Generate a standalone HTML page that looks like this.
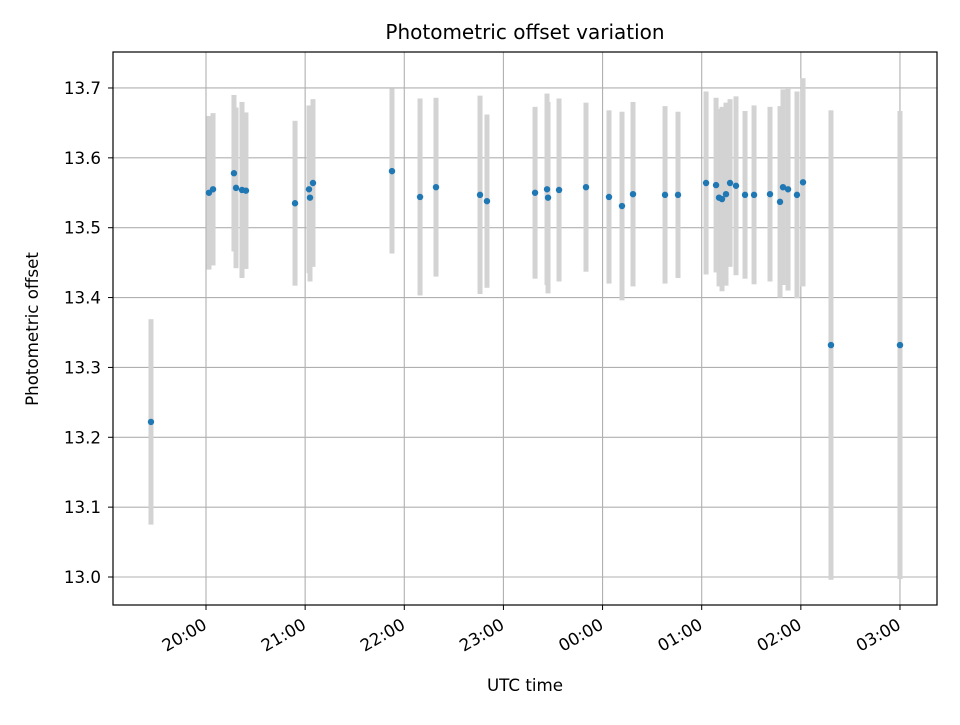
<!DOCTYPE html>
<html><head><meta charset="utf-8"><style>
body{margin:0;background:#fff;}
svg text{font-family:"DejaVu Sans","Liberation Sans",sans-serif;fill:#000;}
</style></head><body>
<svg id="chart" width="960" height="720" xmlns="http://www.w3.org/2000/svg">
<rect width="960" height="720" fill="#fff"/>
<g id="grid"></g>
<g id="bars"></g>
<g id="pts"></g>
<rect x="113" y="52" width="824" height="553" fill="none" stroke="#000" stroke-width="1.2"/>
<g id="ticks"></g>
<text x="525" y="39" font-size="20" text-anchor="middle">Photometric offset variation</text>
<text x="525" y="691" font-size="16.7" text-anchor="middle">UTC time</text>
<text transform="translate(38,329) rotate(-90)" font-size="16.7" text-anchor="middle">Photometric offset</text>
</svg>
<script>
// hours relative to 20:00 UTC
const times=[-0.555,0.030,0.071,0.282,0.303,0.363,0.403,0.898,1.039,1.049,1.079,1.876,2.159,2.320,2.764,2.834,3.319,3.440,3.450,3.561,3.833,4.065,4.196,4.307,4.630,4.761,5.044,5.145,5.175,5.205,5.245,5.286,5.346,5.437,5.528,5.689,5.790,5.820,5.871,5.961,6.022,6.304,7.000];
const values=[13.222,13.550,13.555,13.578,13.557,13.554,13.553,13.535,13.555,13.543,13.564,13.581,13.544,13.558,13.547,13.538,13.550,13.555,13.543,13.554,13.558,13.544,13.531,13.548,13.547,13.547,13.564,13.561,13.543,13.541,13.548,13.564,13.560,13.547,13.547,13.548,13.537,13.558,13.555,13.547,13.565,13.332,13.332];
const errors=[0.147,0.110,0.109,0.112,0.115,0.126,0.112,0.118,0.120,0.120,0.120,0.118,0.141,0.128,0.142,0.124,0.123,0.137,0.137,0.131,0.121,0.124,0.135,0.132,0.127,0.119,0.131,0.125,0.127,0.132,0.131,0.120,0.128,0.120,0.128,0.125,0.137,0.140,0.145,0.148,0.149,0.336,0.335];
const yTicks=[13.0,13.1,13.2,13.3,13.4,13.5,13.6,13.7];
const xTicks=[0,1,2,3,4,5,6,7];
const xTickLabels=["20:00","21:00","22:00","23:00","00:00","01:00","02:00","03:00"];
const NS="http://www.w3.org/2000/svg";
const xS=h=>206+h*99.14;
const yS=v=>577-(v-13.0)*698.6;
function mk(tag,attrs,parent){const e=document.createElementNS(NS,tag);for(const k in attrs)e.setAttribute(k,attrs[k]);document.getElementById(parent).appendChild(e);return e;}
yTicks.forEach((t,i)=>{
  const y=yS(t);
  const g=mk('line',{x1:113,x2:937,y1:y,y2:y,stroke:'#b0b0b0','stroke-width':1.1},'grid');
  
  
  const tk=mk('line',{x1:108,x2:113,y1:y,y2:y,stroke:'#000'},'ticks');
  
  
  const tx=mk('text',{x:101,y:y+6,'font-size':16.7,'text-anchor':'end'},'ticks');
  
  
  tx.textContent=t.toFixed(1);
});
xTicks.forEach((t,i)=>{
  const x=xS(t);
  const g=mk('line',{x1:x,x2:x,y1:52,y2:605,stroke:'#b0b0b0','stroke-width':1.1},'grid');
  
  
  const tk=mk('line',{x1:x,x2:x,y1:605,y2:610,stroke:'#000'},'ticks');
  
  
  const tx=mk('text',{transform:`translate(${x+2},${628}) rotate(-30)`,'font-size':16.7,'text-anchor':'end'},'ticks');
  
  
  tx.textContent=xTickLabels[i];
});
times.forEach((t,i)=>{
  const x=xS(t);
  const b=mk('rect',{x:x-2.5,y:yS(values[i]+errors[i]),width:5,height:yS(values[i]-errors[i])-yS(values[i]+errors[i]),fill:'#d3d3d3'},'bars');
  
  
  const p=mk('circle',{cx:x,cy:yS(values[i]),r:3.2,fill:'#1f77b4'},'pts');
  
  
});
</script>
</body></html>
